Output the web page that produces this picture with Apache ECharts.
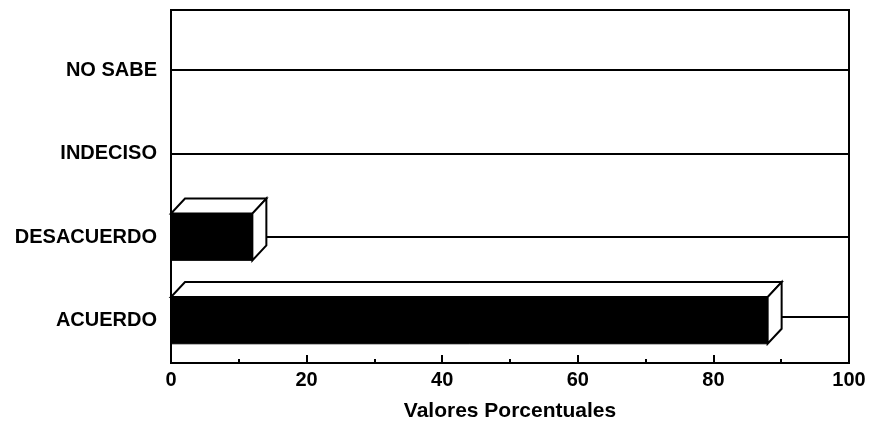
<!DOCTYPE html>
<html>
<head>
<meta charset="utf-8">
<script src="https://cdn.jsdelivr.net/npm/echarts@6/dist/echarts.min.js"></script>
<style>
    html, body { margin: 0; padding: 0; background: #fff; }
    #chart { width: 869px; height: 425px; }
</style>
</head>
<body>
<div id="chart"></div>
<script>
// categorias de abajo hacia arriba
const categorias = ['ACUERDO', 'DESACUERDO', 'INDECISO', 'NO SABE']
const valores = [88, 12, 0, 0]
const posCategorias = [0, 1, 2, 3]

const chart = echarts.init(document.getElementById('chart'))

// profundidad del efecto 3D (px)
const dx = 14
const dy = 15
const medioAlto = 0.28

function renderBarra(params, api) {
    const v = api.value(0)
    const i = api.value(1)
    const arriba = api.coord([0, i + medioAlto])
    const abajo = api.coord([v, i - medioAlto])
    const centro = api.coord([v, i])
    const xDer = api.coord([100, i])[0]
    const x0 = arriba[0], x1 = abajo[0]
    const y0 = arriba[1], y1 = abajo[1]
    const yc = Math.round(centro[1]) + (v > 50 ? -3 : 0)
    const hijos = []
    if (v > 0) {
        hijos.push({
            type: 'rect',
            shape: { x: x0, y: y0, width: x1 - x0, height: y1 - y0 },
            style: { fill: '#000', stroke: '#000', lineWidth: 1 }
        })
        hijos.push({
            type: 'polygon',
            shape: { points: [[x0, y0], [x1, y0], [x1 + dx, y0 - dy], [x0 + dx, y0 - dy]] },
            style: { fill: '#fff', stroke: '#000', lineWidth: 2 }
        })
        hijos.push({
            type: 'polygon',
            shape: { points: [[x1, y0], [x1 + dx, y0 - dy], [x1 + dx, y1 - dy], [x1, y1]] },
            style: { fill: '#fff', stroke: '#000', lineWidth: 2 }
        })
        hijos.push({
            type: 'line',
            shape: { x1: x1 + dx, y1: yc, x2: xDer, y2: yc },
            style: { stroke: '#000', lineWidth: 2 }
        })
    } else {
        hijos.push({
            type: 'line',
            shape: { x1: x0, y1: yc, x2: xDer, y2: yc },
            style: { stroke: '#000', lineWidth: 2 }
        })
    }
    return { type: 'group', children: hijos }
}

const option = {
    animation: false,
    backgroundColor: '#fff',
    grid: {
        left: 171, right: 20, top: 10, bottom: 62,
        outerBoundsMode: 'none',
        show: true, borderColor: '#000', borderWidth: 2
    },
    xAxis: {
        type: 'value',
        min: 0,
        max: 100,
        interval: 20,
        name: 'Valores Porcentuales',
        nameLocation: 'middle',
        nameGap: 38,
        nameTextStyle: {
            fontFamily: 'Liberation Sans', fontWeight: 'bold', fontSize: 21, color: '#000'
        },
        axisLine: { show: true, onZero: false, lineStyle: { color: '#000', width: 2 } },
        axisTick: { show: true, inside: true, length: 8, lineStyle: { color: '#000', width: 2 } },
        minorTick: { show: true, splitNumber: 2, length: 4, lineStyle: { color: '#000', width: 2 } },
        axisLabel: {
            margin: 7,
            fontFamily: 'Liberation Sans', fontWeight: 'bold', fontSize: 20, color: '#000'
        },
        splitLine: { show: false }
    },
    yAxis: {
        type: 'value',
        min: -0.51,
        max: 3.72,
        axisLine: { show: true, onZero: false, lineStyle: { color: '#000', width: 2 } },
        axisTick: { show: false },
        axisLabel: {
            customValues: posCategorias,
            margin: 14,
            fontFamily: 'Liberation Sans', fontWeight: 'bold', fontSize: 20, color: '#000',
            formatter: v => categorias[Math.round(v)] || ''
        },
        splitLine: { show: false }
    },
    series: [{
        type: 'custom',
        renderItem: renderBarra,
        encode: { x: 0, y: 1 },
        data: categorias.map((c, i) => [valores[i], i]),
        clip: false
    }]
}

chart.setOption(option)
</script>
</body>
</html>
